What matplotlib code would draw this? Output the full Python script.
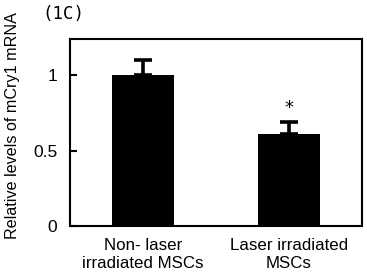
import matplotlib.pyplot as plt

# Datos
grupos = ["Non- laser\nirradiated MSCs", "Laser irradiated\nMSCs"]
niveles = [1.0, 0.61]
errores = [0.10, 0.08]
marcas = ["", "*"]

plt.rcParams['font.family'] = ['Liberation Sans', 'DejaVu Sans']

fig = plt.figure(figsize=(3.67, 2.79), dpi=100)
ax = fig.add_axes([70 / 367, 1 - 226 / 279, 292 / 367, 187 / 279])

pos = range(len(grupos))
ax.bar(pos, niveles, width=0.42, color='black',
       yerr=[[0] * len(errores), errores],
       error_kw=dict(ecolor='black', elinewidth=2.6, capsize=6.5, capthick=2.6))

for i, m in enumerate(marcas):
    if m:
        ax.text(i, niveles[i] + errores[i] + 0.09, m, ha='center', va='center',
                fontsize=13, family='DejaVu Sans', color='black')

ax.set_xlim(-0.5, 1.5)
ax.set_ylim(0, 1.24)
ax.set_yticks([0, 0.5, 1])
ax.set_yticklabels(["0", "0.5", "1"], fontsize=12.5)
ax.set_xticks(list(pos))
ax.set_xticklabels(grupos, fontsize=12.2, linespacing=1.25)
ax.tick_params(axis='y', direction='in', length=5, width=1.5, pad=9)
ax.tick_params(axis='x', length=0, pad=9)
for s in ax.spines.values():
    s.set_linewidth(1.5)

# Etiqueta del eje Y
fig.text(13 / 367, 1 - 126 / 279, "Relative levels of mCry1 mRNA", rotation=90,
         ha='center', va='center', fontsize=11.6)

fig.text(42 / 367, 1 - 14 / 279, "(1C)", family='DejaVu Sans Mono', fontsize=12.5,
         va='center', ha='left')

fig.savefig("out.png", dpi=100)
